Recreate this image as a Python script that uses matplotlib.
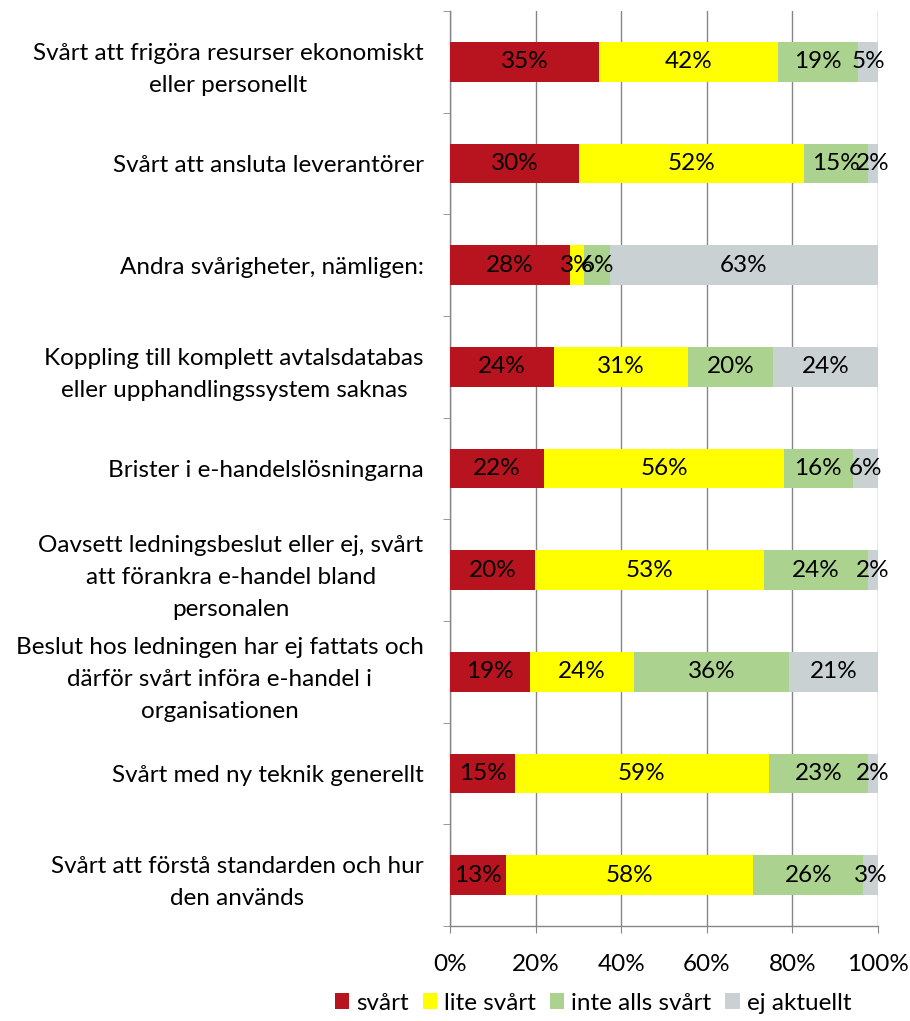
import numpy as np
import matplotlib.pyplot as plt
from matplotlib.patches import Patch

categories = [
    "Svårt att frigöra resurser ekonomiskt\neller personellt",
    "Svårt att ansluta leverantörer",
    "Andra svårigheter, nämligen:",
    "Koppling till komplett avtalsdatabas\neller upphandlingssystem saknas",
    "Brister i e-handelslösningarna",
    "Oavsett ledningsbeslut eller ej, svårt\natt förankra e-handel bland\npersonalen",
    "Beslut hos ledningen har ej fattats och\ndärför svårt införa e-handel i\norganisationen",
    "Svårt med ny teknik generellt",
    "Svårt att förstå standarden och hur\nden används",
]

# shares in percent
svart = [34.8, 30.2, 28.0, 24.3, 22.0, 19.9, 18.7, 15.2, 13.0]
lite_svart = [41.9, 52.4, 3.3, 31.3, 56.0, 53.4, 24.3, 59.3, 57.9]
inte_alls = [18.7, 15.0, 6.1, 19.9, 16.1, 24.3, 36.2, 23.1, 25.7]
ej_aktuellt = [4.6, 2.4, 62.6, 24.5, 5.9, 2.4, 20.8, 2.4, 3.4]

series_names = ["svårt", "lite svårt", "inte alls svårt", "ej aktuellt"]
colors = ["#B8141F", "#FFFF00", "#ABD28E", "#C9D1D3"]

plt.rcParams['font.family'] = ['Lato', 'DejaVu Sans']
fs = 17.5

fig = plt.figure(figsize=(9.1, 10.21), dpi=100)
ax = fig.add_axes([450 / 910, 1 - 926 / 1021, 428 / 910, 915 / 1021])

n = len(categories)
y = np.arange(n)
left = np.zeros(n)
for vals, col in zip([svart, lite_svart, inte_alls, ej_aktuellt], colors):
    vals = np.array(vals)
    ax.barh(y, vals, left=left, height=0.39, color=col, edgecolor='none', zorder=3)
    for yi, (l, v) in enumerate(zip(left, vals)):
        ax.text(l + v / 2, yi, f"{v:.0f}%", ha='center', va='center',
                fontsize=fs, color='black', zorder=4)
    left += vals

ax.set_xlim(0, 100)
ax.set_ylim(n - 0.5, -0.5)
ax.set_xticks(np.arange(0, 101, 20))
ax.set_xticklabels([f"{t}%" for t in range(0, 101, 20)], fontsize=fs)
ax.set_yticks(y)
ax.set_yticklabels(categories, fontsize=fs, multialignment='center', linespacing=1.65)
ax.set_yticks(np.arange(-0.5, n, 1), minor=True)
ax.tick_params(axis='y', which='major', length=0, pad=19)
ax.tick_params(axis='y', which='minor', length=5, color='#868686', direction='out')
ax.tick_params(axis='x', length=5, color='#868686', pad=15)
ax.grid(axis='x', color='#868686', linewidth=1, zorder=0)

for s in ['top', 'right']:
    ax.spines[s].set_visible(False)
for s in ['left', 'bottom']:
    ax.spines[s].set_color('#868686')
    ax.spines[s].set_linewidth(1)

handles = [Patch(facecolor=c, edgecolor='none') for c in colors]
fig.legend(handles, series_names, loc='center', bbox_to_anchor=(593 / 910, 1 - 1003 / 1021),
           ncol=4, frameon=False, fontsize=fs, handlelength=0.6, handleheight=0.6,
           handletextpad=0.3, columnspacing=0.55, borderpad=0)

fig.savefig("out.png", dpi=100)
